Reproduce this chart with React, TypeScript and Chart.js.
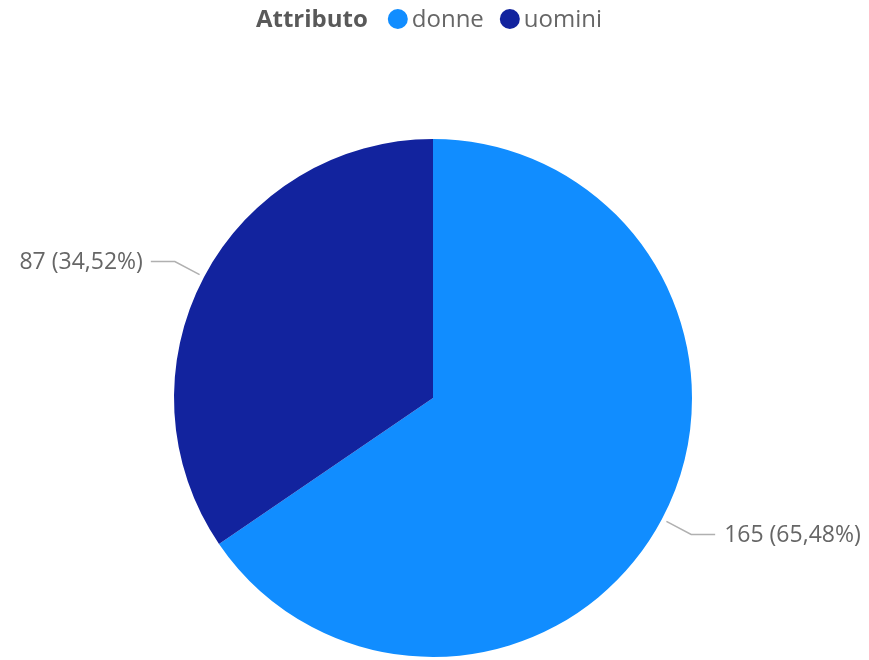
import React, { useEffect, useRef } from "react";
import { Chart, registerables } from "chart.js";

Chart.register(...registerables);

const categories = ["donne", "uomini"];
const values = [165, 87];
const percentLabels = ["65,48%", "34,52%"];
const colors = ["#118DFF", "#12239E"];
const legendTitle = "Attributo";

const FONT = "'Open Sans', 'Noto Sans', sans-serif";

const overlayPlugin = {
  id: "overlay",
  afterDraw(chart: any) {
    const ctx = chart.ctx as CanvasRenderingContext2D;
    // legend
    ctx.save();
    ctx.textBaseline = "middle";
    ctx.font = `bold 24px ${FONT}`;
    const titleW = ctx.measureText(legendTitle).width;
    ctx.font = `24px ${FONT}`;
    const itemWs = categories.map((c) => ctx.measureText(c).width);
    const dot = 20;
    const total = titleW + 20 + itemWs.reduce((a, w) => a + dot + 4 + w, 0) + 16 * (categories.length - 1);
    let x = 429 - total / 2;
    const ly = 19;
    ctx.fillStyle = "#595959";
    ctx.font = `bold 24px ${FONT}`;
    ctx.textAlign = "left";
    ctx.fillText(legendTitle, x, ly + 1);
    x += titleW + 20;
    ctx.font = `24px ${FONT}`;
    categories.forEach((c, i) => {
      ctx.fillStyle = colors[i];
      ctx.beginPath();
      ctx.arc(x + dot / 2, ly, dot / 2, 0, Math.PI * 2);
      ctx.fill();
      x += dot + 4;
      ctx.fillStyle = "#666666";
      ctx.fillText(c, x, ly + 1);
      x += itemWs[i] + 16;
    });

    // data labels with leader lines
    const meta = chart.getDatasetMeta(0);
    meta.data.forEach((arc: any, i: number) => {
      const { x: cx, y: cy, startAngle, endAngle, outerRadius } = arc.getProps(
        ["x", "y", "startAngle", "endAngle", "outerRadius"],
        true
      );
      const mid = (startAngle + endAngle) / 2;
      const cos = Math.cos(mid);
      const sin = Math.sin(mid);
      const r1 = outerRadius + 5;
      const r2 = outerRadius + 33;
      const x1 = cx + cos * r1;
      const y1 = cy + sin * r1;
      const x2 = cx + cos * r2;
      const y2 = cy + sin * r2;
      const right = cos >= 0;
      const x3 = x2 + (right ? 24 : -24);
      ctx.strokeStyle = "#B0B0B0";
      ctx.lineWidth = 1.5;
      ctx.beginPath();
      ctx.moveTo(x1, y1);
      ctx.lineTo(x2, y2);
      ctx.lineTo(x3, y2);
      ctx.stroke();
      ctx.fillStyle = "#666666";
      ctx.font = `23px ${FONT}`;
      ctx.textAlign = right ? "left" : "right";
      ctx.textBaseline = "middle";
      ctx.fillText(`${values[i]} (${percentLabels[i]})`, x3 + (right ? 9 : -8), y2 + 1);
    });
    ctx.restore();
  },
};

export default function App() {
  const ref = useRef<HTMLCanvasElement | null>(null);
  useEffect(() => {
    if (!ref.current) return;
    const chart = new Chart(ref.current, {
      type: "pie",
      data: {
        labels: categories,
        datasets: [
          {
            data: values,
            backgroundColor: colors,
            borderWidth: 0,
          },
        ],
      },
      options: {
        animation: false,
        responsive: false,
        layout: { padding: { top: 139, bottom: 3, left: 174, right: 177 } },
        plugins: {
          legend: { display: false },
          tooltip: { enabled: false },
        },
      },
      plugins: [overlayPlugin],
    });
    return () => chart.destroy();
  }, []);
  return (
    <div style={{ position: "absolute", left: 0, top: 0, width: 869, height: 660, background: "#fff" }}>
      <canvas ref={ref} width={869} height={660} />
    </div>
  );
}
